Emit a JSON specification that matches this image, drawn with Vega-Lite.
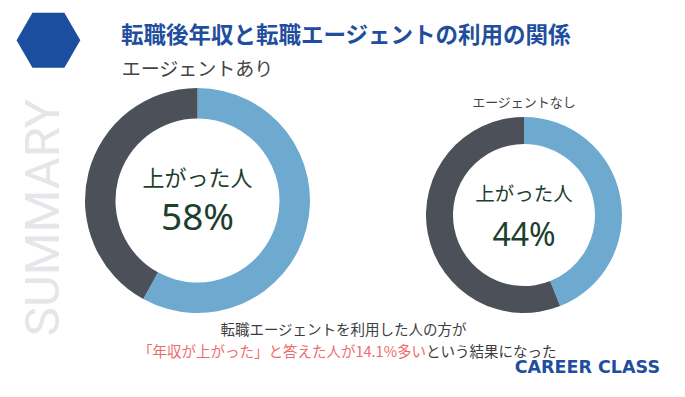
{
  "$schema": "https://vega.github.io/schema/vega-lite/v6.json",
  "width": 685,
  "height": 397,
  "padding": 0,
  "autosize": {"type": "fit", "contains": "padding"},
  "background": "white",
  "config": {"view": {"stroke": null}, "text": {"font": "Noto Sans CJK JP"}},
  "data": {
    "values": [
      {"group": "エージェントあり", "status": "上がった", "share": 0.58},
      {"group": "エージェントあり", "status": "上がらなかった", "share": 0.42},
      {"group": "エージェントなし", "status": "上がった", "share": 0.44},
      {"group": "エージェントなし", "status": "上がらなかった", "share": 0.56}
    ]
  },
  "layer": [
    {
      "transform": [{"filter": "datum.group === 'エージェントあり'"}],
      "mark": {"type": "arc", "innerRadius": 82, "outerRadius": 112.5},
      "encoding": {
        "x": {"field": "group", "type": "nominal", "scale": {"type": "point", "domain": ["エージェントあり", "エージェントなし"], "range": [197.5, 524], "padding": 0}, "axis": null},
        "y": {"field": "group", "type": "nominal", "scale": {"type": "point", "domain": ["エージェントあり", "エージェントなし"], "range": [200.5, 215], "padding": 0}, "axis": null},
        "theta": {"field": "share", "type": "quantitative", "stack": true},
        "color": {"field": "status", "type": "nominal", "scale": {"domain": ["上がった", "上がらなかった"], "range": ["#6eaacf", "#4b5059"]}, "legend": null},
        "order": {"field": "status", "sort": "ascending"}
      }
    },
    {
      "transform": [{"filter": "datum.group === 'エージェントなし'"}],
      "mark": {"type": "arc", "innerRadius": 71, "outerRadius": 98},
      "encoding": {
        "x": {"field": "group", "type": "nominal"},
        "y": {"field": "group", "type": "nominal"},
        "theta": {"field": "share", "type": "quantitative", "stack": true},
        "color": {"field": "status", "type": "nominal"},
        "order": {"field": "status", "sort": "ascending"}
      }
    },
    {
      "transform": [{"filter": "datum.group === 'エージェントあり' && datum.status === '上がった'"}],
      "mark": {"type": "text", "dy": -130.5, "fontSize": 19, "color": "#444444", "baseline": "middle"},
      "encoding": {"x": {"field": "group", "type": "nominal"}, "y": {"field": "group", "type": "nominal"}, "text": {"field": "group"}}
    },
    {
      "transform": [{"filter": "datum.group === 'エージェントあり' && datum.status === '上がった'"}],
      "mark": {"type": "text", "text": "上がった人", "dy": -22, "fontSize": 22, "color": "#1d3f2e", "baseline": "middle"},
      "encoding": {"x": {"field": "group", "type": "nominal"}, "y": {"field": "group", "type": "nominal"}}
    },
    {
      "transform": [{"filter": "datum.group === 'エージェントあり' && datum.status === '上がった'"}],
      "mark": {"type": "text", "dy": 18, "fontSize": 37, "font": "Noto Sans", "color": "#1d3f2e", "baseline": "middle"},
      "encoding": {"x": {"field": "group", "type": "nominal"}, "y": {"field": "group", "type": "nominal"}, "text": {"field": "share", "type": "quantitative", "format": ".0%"}}
    },
    {
      "transform": [{"filter": "datum.group === 'エージェントなし' && datum.status === '上がった'"}],
      "mark": {"type": "text", "dy": -112, "fontSize": 13, "color": "#444444", "baseline": "middle"},
      "encoding": {"x": {"field": "group", "type": "nominal"}, "y": {"field": "group", "type": "nominal"}, "text": {"field": "group"}}
    },
    {
      "transform": [{"filter": "datum.group === 'エージェントなし' && datum.status === '上がった'"}],
      "mark": {"type": "text", "text": "上がった人", "dy": -20, "fontSize": 19.5, "color": "#1d3f2e", "baseline": "middle"},
      "encoding": {"x": {"field": "group", "type": "nominal"}, "y": {"field": "group", "type": "nominal"}}
    },
    {
      "transform": [{"filter": "datum.group === 'エージェントなし' && datum.status === '上がった'"}],
      "mark": {"type": "text", "dy": 20.5, "fontSize": 32, "font": "Noto Sans", "color": "#1d3f2e", "baseline": "middle"},
      "encoding": {"x": {"field": "group", "type": "nominal"}, "y": {"field": "group", "type": "nominal"}, "text": {"field": "share", "type": "quantitative", "format": ".0%"}}
    },
    {
      "data": {"values": [{}]},
      "mark": {"type": "text", "text": "転職後年収と転職エージェントの利用の関係", "align": "left", "baseline": "middle", "dx": -221.5, "dy": -162.5, "fontSize": 22.5, "fontWeight": "bold", "color": "#1f4e9e"},
      "encoding": {}
    },
    {
      "data": {"values": [{}]},
      "mark": {"type": "text", "text": "⬣", "align": "center", "baseline": "middle", "dx": -294, "dy": -157, "fontSize": 76, "font": "DejaVu Sans", "color": "#1c4ea0"},
      "encoding": {}
    },
    {
      "data": {"values": [{}]},
      "mark": {"type": "text", "text": "SUMMARY", "angle": 270, "align": "center", "baseline": "middle", "dx": -19, "dy": -299, "fontSize": 49, "font": "Roboto", "color": "#e4e6e9"},
      "encoding": {}
    },
    {
      "data": {"values": [{}]},
      "mark": {"type": "text", "text": "転職エージェントを利用した人の方が", "align": "center", "baseline": "middle", "dx": 1, "dy": 132.5, "fontSize": 14.5, "color": "#3c3c3c"},
      "encoding": {}
    },
    {
      "data": {"values": [{}]},
      "mark": {"type": "text", "text": "「年収が上がった」と答えた人が14.1%多い", "align": "right", "baseline": "middle", "dx": 83.5, "dy": 154.5, "fontSize": 14.5, "color": "#ee6b6b"},
      "encoding": {}
    },
    {
      "data": {"values": [{}]},
      "mark": {"type": "text", "text": "という結果になった", "align": "left", "baseline": "middle", "dx": 83.5, "dy": 154.5, "fontSize": 14.5, "color": "#3c3c3c"},
      "encoding": {}
    },
    {
      "data": {"values": [{}]},
      "mark": {"type": "text", "text": "CAREER CLASS", "align": "right", "baseline": "middle", "dx": 317.5, "dy": 169.5, "fontSize": 17.5, "font": "DejaVu Sans", "fontWeight": "bold", "color": "#1f4e9e"},
      "encoding": {}
    }
  ]
}
